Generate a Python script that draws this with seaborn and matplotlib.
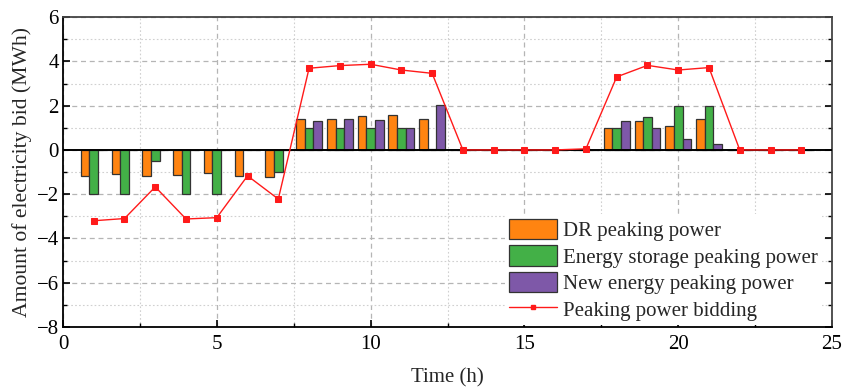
import numpy as np
import pandas as pd
import matplotlib
matplotlib.use("Agg")
import matplotlib.pyplot as plt
from matplotlib.patches import Patch
from matplotlib.lines import Line2D
from matplotlib.ticker import MultipleLocator
import seaborn as sns

# Hourly peaking power bids (MWh)
hours = list(range(1, 25))
dr_power = [-1.19, -1.10, -1.19, -1.15, -1.05, -1.20, -1.23,
            1.38, 1.39, 1.51, 1.60, 1.39, 0, 0, 0, 0, 0,
            0.98, 1.30, 1.10, 1.39, 0, 0, 0]
storage_power = [-2.00, -2.00, -0.50, -2.00, -2.00, 0, -1.00,
                 0.98, 1.00, 0.98, 1.00, 0.05, 0, 0, 0, 0, 0.05,
                 0.98, 1.50, 2.00, 2.00, 0, 0, 0]
new_energy_power = [0, 0, 0, 0, 0, 0, 0,
                    1.30, 1.39, 1.35, 1.00, 2.01, 0, 0, 0, 0, 0,
                    1.29, 0.98, 0.50, 0.28, 0, 0, 0]
bidding = [-3.20, -3.10, -1.67, -3.12, -3.06, -1.17, -2.22,
           3.69, 3.81, 3.87, 3.61, 3.46, 0, 0, 0, 0, 0.05,
           3.30, 3.82, 3.61, 3.72, 0, 0, 0]

series_names = ["DR peaking power", "Energy storage peaking power",
                "New energy peaking power"]
line_name = "Peaking power bidding"
colors = ["#FF8411", "#43B047", "#7E58A8"]
line_color = "#FF1A1A"

sns.set_theme(style="white")
plt.rcParams["font.family"] = ["Liberation Serif", "DejaVu Serif"]
plt.rcParams["mathtext.fontset"] = "stix"

bars = pd.DataFrame({
    "Hour": hours * 3,
    "Value": dr_power + storage_power + new_energy_power,
    "Series": ([series_names[0]] * len(hours) + [series_names[1]] * len(hours)
               + [series_names[2]] * len(hours)),
})
line_df = pd.DataFrame({"Hour": hours, "Value": bidding})

fs = 15

fig = plt.figure(figsize=(8.43, 3.89), dpi=100)
ax = fig.add_axes([0.0747, 0.1594, 0.9123, 0.7966])

# Grid lines: dashed at major ticks, dotted at minor ticks
ax.set_axisbelow(True)
ax.xaxis.set_major_locator(MultipleLocator(5))
ax.xaxis.set_minor_locator(MultipleLocator(2.5))
ax.yaxis.set_major_locator(MultipleLocator(2))
ax.yaxis.set_minor_locator(MultipleLocator(1))
ax.grid(which="major", linestyle=(0, (4, 3)), color="#B5B5B5", linewidth=0.9)
ax.grid(which="minor", linestyle=(0, (1.5, 2)), color="#D0D0D0", linewidth=0.8)

sns.barplot(data=bars, x="Hour", y="Value", hue="Series",
            hue_order=series_names, palette=colors, native_scale=True,
            width=0.84, dodge=True, edgecolor="#333333", linewidth=0.9,
            saturation=1, legend=False, ax=ax, zorder=2)

ax.axhline(0, color="black", linewidth=1.4, zorder=3)

sns.lineplot(data=line_df, x="Hour", y="Value", color=line_color,
             linewidth=1.0, marker="s", markersize=4,
             markeredgecolor=line_color, ax=ax, zorder=4)

ax.set_xlim(0, 25)
ax.set_ylim(-8, 6)
ax.set_xlabel("Time (h)", fontsize=fs, labelpad=10)
ax.set_ylabel("Amount of electricity bid (MWh)", fontsize=15.6, labelpad=3)

ax.tick_params(which="both", direction="in", bottom=True, left=True,
               right=True, top=False, labelsize=fs, colors="black")
ax.tick_params(which="major", length=5, width=1.2)
ax.tick_params(which="minor", length=3, width=1.0)
ax.tick_params(axis="x", pad=6)
ax.tick_params(axis="y", pad=3)
for side, spine in ax.spines.items():
    spine.set_visible(True)
    spine.set_linewidth(1.3)
    spine.set_color("black" if side in ("left", "bottom") else "#444444")

handles = [Patch(facecolor=c, edgecolor="#333333", linewidth=0.9) for c in colors]
handles.append(Line2D([], [], color=line_color, linewidth=1.0, marker="s",
                      markersize=3.5))
leg = ax.legend(handles, series_names + [line_name], loc="lower right",
                bbox_to_anchor=(0.99, 0.0), fontsize=fs, frameon=True,
                facecolor="white", edgecolor="none", framealpha=1,
                fancybox=False, handlelength=2.3, handleheight=1.15,
                handletextpad=0.3, labelspacing=0.2, borderpad=0.2,
                borderaxespad=0.1, numpoints=1)
leg.set_zorder(5)

fig.savefig("out.png", dpi=100)
